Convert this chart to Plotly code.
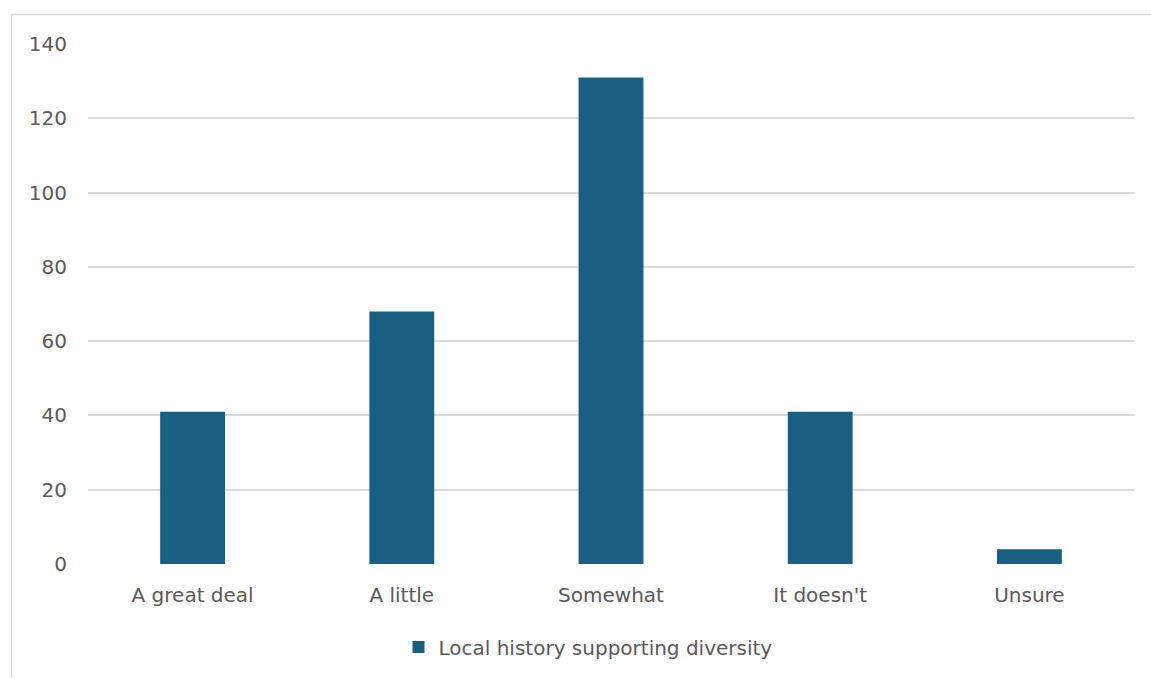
import plotly.graph_objects as go

# Survey responses: how much local history supports diversity
categories = ["A great deal", "A little", "Somewhat", "It doesn't", "Unsure"]
counts = [41, 68, 131, 41, 4]
series_name = "Local history supporting diversity"
y_ticks = [0, 20, 40, 60, 80, 100, 120, 140]

W, H = 1151, 678
L, R, T, B = 88, 17, 44, 114
plot_w = W - L - R
plot_h = H - T - B

bar_color = "#185F82"
text_color = "#595959"
grid_color = "#D9D9D9"
font_family = "DejaVu Sans, sans-serif"
font_size = 20

fig = go.Figure(
    go.Bar(
        x=categories,
        y=counts,
        name=series_name,
        marker=dict(color=bar_color, line=dict(width=0)),
        showlegend=True,
    )
)


def px_x(px):
    return (px - L) / plot_w


def px_y(py):
    return (H - B - py) / plot_h


# Outer chart frame, running off the right and bottom of the canvas
fig.add_shape(
    type="rect", xref="paper", yref="paper",
    x0=px_x(11.5), x1=px_x(W + 5), y0=px_y(H + 5), y1=px_y(14.5),
    line=dict(color=grid_color, width=1.5), fillcolor="rgba(0,0,0,0)",
    layer="below",
)

fig.update_layout(
    width=W, height=H,
    margin=dict(l=L, r=R, t=T, b=B),
    paper_bgcolor="white", plot_bgcolor="white",
    bargap=0.69,
    font=dict(family=font_family, size=font_size, color=text_color),
    xaxis=dict(
        showgrid=False, showline=False, zeroline=False,
        ticks="", ticklabelstandoff=17,
        tickfont=dict(size=font_size, color=text_color),
    ),
    yaxis=dict(
        range=[0, 140], tickvals=y_ticks,
        showgrid=True, gridcolor=grid_color, gridwidth=1.5,
        zeroline=False, showline=False, ticks="",
        ticklabelstandoff=20,
        tickfont=dict(size=font_size, color=text_color),
    ),
    legend=dict(
        orientation="h", xanchor="center", yanchor="middle",
        x=px_x(588), y=px_y(647),
        font=dict(size=font_size, color=text_color),
        itemwidth=30,
    ),
)

fig.write_html("out.html")
